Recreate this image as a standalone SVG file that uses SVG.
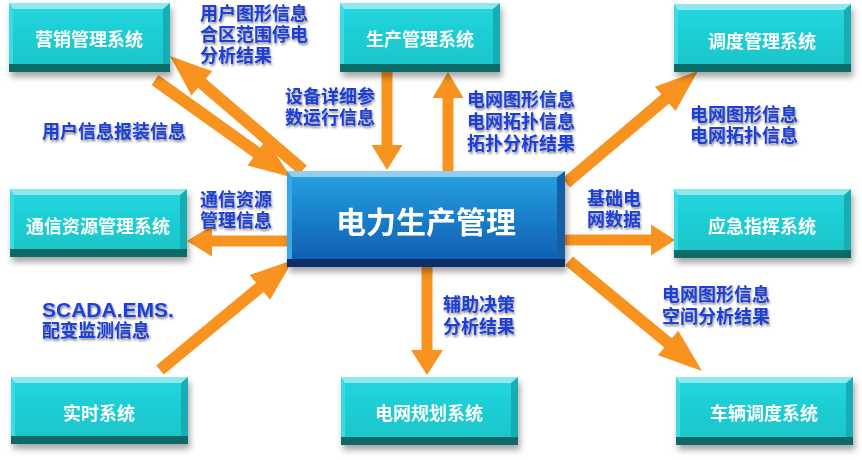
<svg xmlns="http://www.w3.org/2000/svg" width="862" height="460" viewBox="0 0 862 460">
<defs>
<linearGradient id="teal" x1="0" y1="0" x2="0" y2="1">
<stop offset="0" stop-color="#22d6df"/>
<stop offset="1" stop-color="#1bc6ca"/>
</linearGradient>
<linearGradient id="blue" x1="0" y1="0" x2="0" y2="1">
<stop offset="0" stop-color="#27a3e3"/>
<stop offset="1" stop-color="#0f5fb3"/>
</linearGradient>
<filter id="sh" x="-10%" y="-10%" width="125%" height="140%">
<feDropShadow dx="2" dy="5" stdDeviation="3" flood-color="#000" flood-opacity="0.35"/>
</filter>
<filter id="tsh" x="-10%" y="-20%" width="130%" height="160%">
<feDropShadow dx="1" dy="2" stdDeviation="1.2" flood-color="#333" flood-opacity="0.55"/>
</filter>
</defs>
<style>
.arr{fill:#f7931e}
.top{fill:#8fe8ee}
.lft{fill:#3adbe3}
.rgt{fill:#17aeb3}
.bot{fill:#0f6a66}
.ntx{font-family:"Noto Sans CJK SC","Noto Sans",sans-serif;font-weight:bold;font-size:18px;fill:#fff;text-anchor:middle;dominant-baseline:central}
.lbl{font-family:"Noto Sans CJK SC","Noto Sans",sans-serif;font-weight:bold;font-size:18px;fill:#1c3fd6;dominant-baseline:central}
.lat{font-family:"Liberation Sans",Arial,sans-serif;font-size:21px}
</style>
<rect width="862" height="460" fill="#fff"/>
<g id="connectors">
<polygon class="arr" transform="translate(303,170) rotate(-139.4)" points="0,-6 133.2,-6 133.2,-16 175.2,0 133.2,16 133.2,6 0,6"/>
<polygon class="arr" transform="translate(155,80) rotate(35.5)" points="0,-6 125,-6 125,-16 167,0 125,16 125,6 0,6"/>
<polygon class="arr" transform="translate(387,72) rotate(90)" points="0,-5.5 73,-5.5 73,-15.5 98,0 73,15.5 73,5.5 0,5.5"/>
<polygon class="arr" transform="translate(448,171) rotate(-90)" points="0,-5.5 73,-5.5 73,-15.5 99,0 73,15.5 73,5.5 0,5.5"/>
<polygon class="arr" transform="translate(566,183) rotate(-40.3)" points="0,-6 130.1,-6 130.1,-16 173.1,0 130.1,16 130.1,6 0,6"/>
<polygon class="arr" transform="translate(287,241) rotate(180)" points="0,-5.5 75,-5.5 75,-15.5 100,0 75,15.5 75,5.5 0,5.5"/>
<polygon class="arr" transform="translate(160,370) rotate(-39.6)" points="0,-6 129.6,-6 129.6,-16 172.6,0 129.6,16 129.6,6 0,6"/>
<polygon class="arr" transform="translate(427,267) rotate(90)" points="0,-5.5 83,-5.5 83,-16 108,0 83,16 83,5.5 0,5.5"/>
<polygon class="arr" transform="translate(565,240) rotate(0)" points="0,-5.5 86,-5.5 86,-15.5 110,0 86,15.5 86,5.5 0,5.5"/>
<polygon class="arr" transform="translate(569,261) rotate(39.6)" points="0,-6 128.6,-6 128.6,-16 172.6,0 128.6,16 128.6,6 0,6"/>
</g>
<g id="n-yingxiao" filter="url(#sh)">
<rect x="9" y="3" width="161" height="61" fill="url(#teal)"/>
<polygon class="lft" points="9,3 13,9 13,64 9,64"/>
<polygon class="rgt" points="170,3 170,64 163,64 163,9"/>
<polygon class="top" points="9,3 170,3 163,9 13,9"/>
<rect class="bot" x="9" y="64" width="161" height="8"/>
<text class="ntx" x="89" y="38">营销管理系统</text>
</g>
<g id="n-shengchan" filter="url(#sh)">
<rect x="340" y="3" width="160" height="61" fill="url(#teal)"/>
<polygon class="lft" points="340,3 344,9 344,64 340,64"/>
<polygon class="rgt" points="500,3 500,64 493,64 493,9"/>
<polygon class="top" points="340,3 500,3 493,9 344,9"/>
<rect class="bot" x="340" y="64" width="160" height="8"/>
<text class="ntx" x="420" y="38">生产管理系统</text>
</g>
<g id="n-diaodu" filter="url(#sh)">
<rect x="674" y="4" width="177" height="60" fill="url(#teal)"/>
<polygon class="lft" points="674,4 678,10 678,64 674,64"/>
<polygon class="rgt" points="851,4 851,64 844,64 844,10"/>
<polygon class="top" points="674,4 851,4 844,10 678,10"/>
<rect class="bot" x="674" y="64" width="177" height="8"/>
<text class="ntx" x="762" y="40">调度管理系统</text>
</g>
<g id="n-tongxin" filter="url(#sh)">
<rect x="10" y="189" width="177" height="60" fill="url(#teal)"/>
<polygon class="lft" points="10,189 14,195 14,249 10,249"/>
<polygon class="rgt" points="187,189 187,249 180,249 180,195"/>
<polygon class="top" points="10,189 187,189 180,195 14,195"/>
<rect class="bot" x="10" y="249" width="177" height="8"/>
<text class="ntx" x="98" y="225">通信资源管理系统</text>
</g>
<g id="n-yingji" filter="url(#sh)">
<rect x="674" y="189" width="177" height="61" fill="url(#teal)"/>
<polygon class="lft" points="674,189 678,195 678,250 674,250"/>
<polygon class="rgt" points="851,189 851,250 844,250 844,195"/>
<polygon class="top" points="674,189 851,189 844,195 678,195"/>
<rect class="bot" x="674" y="250" width="177" height="8"/>
<text class="ntx" x="762" y="225">应急指挥系统</text>
</g>
<g id="n-shishi" filter="url(#sh)">
<rect x="11" y="377" width="177" height="59" fill="url(#teal)"/>
<polygon class="lft" points="11,377 15,383 15,436 11,436"/>
<polygon class="rgt" points="188,377 188,436 181,436 181,383"/>
<polygon class="top" points="11,377 188,377 181,383 15,383"/>
<rect class="bot" x="11" y="436" width="177" height="8"/>
<text class="ntx" x="99" y="412">实时系统</text>
</g>
<g id="n-guihua" filter="url(#sh)">
<rect x="341" y="377" width="177" height="60" fill="url(#teal)"/>
<polygon class="lft" points="341,377 345,383 345,437 341,437"/>
<polygon class="rgt" points="518,377 518,437 511,437 511,383"/>
<polygon class="top" points="341,377 518,377 511,383 345,383"/>
<rect class="bot" x="341" y="437" width="177" height="8"/>
<text class="ntx" x="429" y="412">电网规划系统</text>
</g>
<g id="n-cheliang" filter="url(#sh)">
<rect x="676" y="377" width="177" height="60" fill="url(#teal)"/>
<polygon class="lft" points="676,377 680,383 680,437 676,437"/>
<polygon class="rgt" points="853,377 853,437 846,437 846,383"/>
<polygon class="top" points="676,377 853,377 846,383 680,383"/>
<rect class="bot" x="676" y="437" width="177" height="8"/>
<text class="ntx" x="764" y="412">车辆调度系统</text>
</g>
<g id="n-main" filter="url(#sh)">
<rect x="287" y="171" width="278" height="88" fill="url(#blue)"/>
<polygon points="287,171 292,177 292,259 287,259" fill="#3aa8e6"/>
<polygon points="565,171 565,259 557,259 557,177" fill="#145fa8"/>
<polygon points="287,171 565,171 557,177 292,177" fill="#8fd0f2"/>
<rect x="287" y="259" width="278" height="8" fill="#0a2e66"/>
<text class="ntx" x="426" y="220" style="font-size:30px">电力生产管理</text>
</g>
<g id="labels" filter="url(#tsh)">
<text class="lbl" x="200" y="12">用户图形信息<tspan x="200" dy="21">合区范围停电</tspan><tspan x="200" dy="21">分析结果</tspan></text>
<text class="lbl" x="285" y="95">设备详细参<tspan x="285" dy="21">数运行信息</tspan></text>
<text class="lbl" x="467" y="98">电网图形信息<tspan x="467" dy="22">电网拓扑信息</tspan><tspan x="467" dy="22">拓扑分析结果</tspan></text>
<text class="lbl" x="690" y="113">电网图形信息<tspan x="690" dy="21">电网拓扑信息</tspan></text>
<text class="lbl" x="42" y="130">用户信息报装信息</text>
<text class="lbl" x="200" y="198">通信资源<tspan x="200" dy="21">管理信息</tspan></text>
<text class="lbl" x="587" y="197">基础电<tspan x="587" dy="21">网数据</tspan></text>
<text class="lbl" x="42" y="309"><tspan class="lat">SCADA.EMS.</tspan><tspan x="42" dy="20">配变监测信息</tspan></text>
<text class="lbl" x="662" y="293">电网图形信息<tspan x="662" dy="22">空间分析结果</tspan></text>
<text class="lbl" x="443" y="303">辅助决策<tspan x="443" dy="22">分析结果</tspan></text>
</g>
</svg>
